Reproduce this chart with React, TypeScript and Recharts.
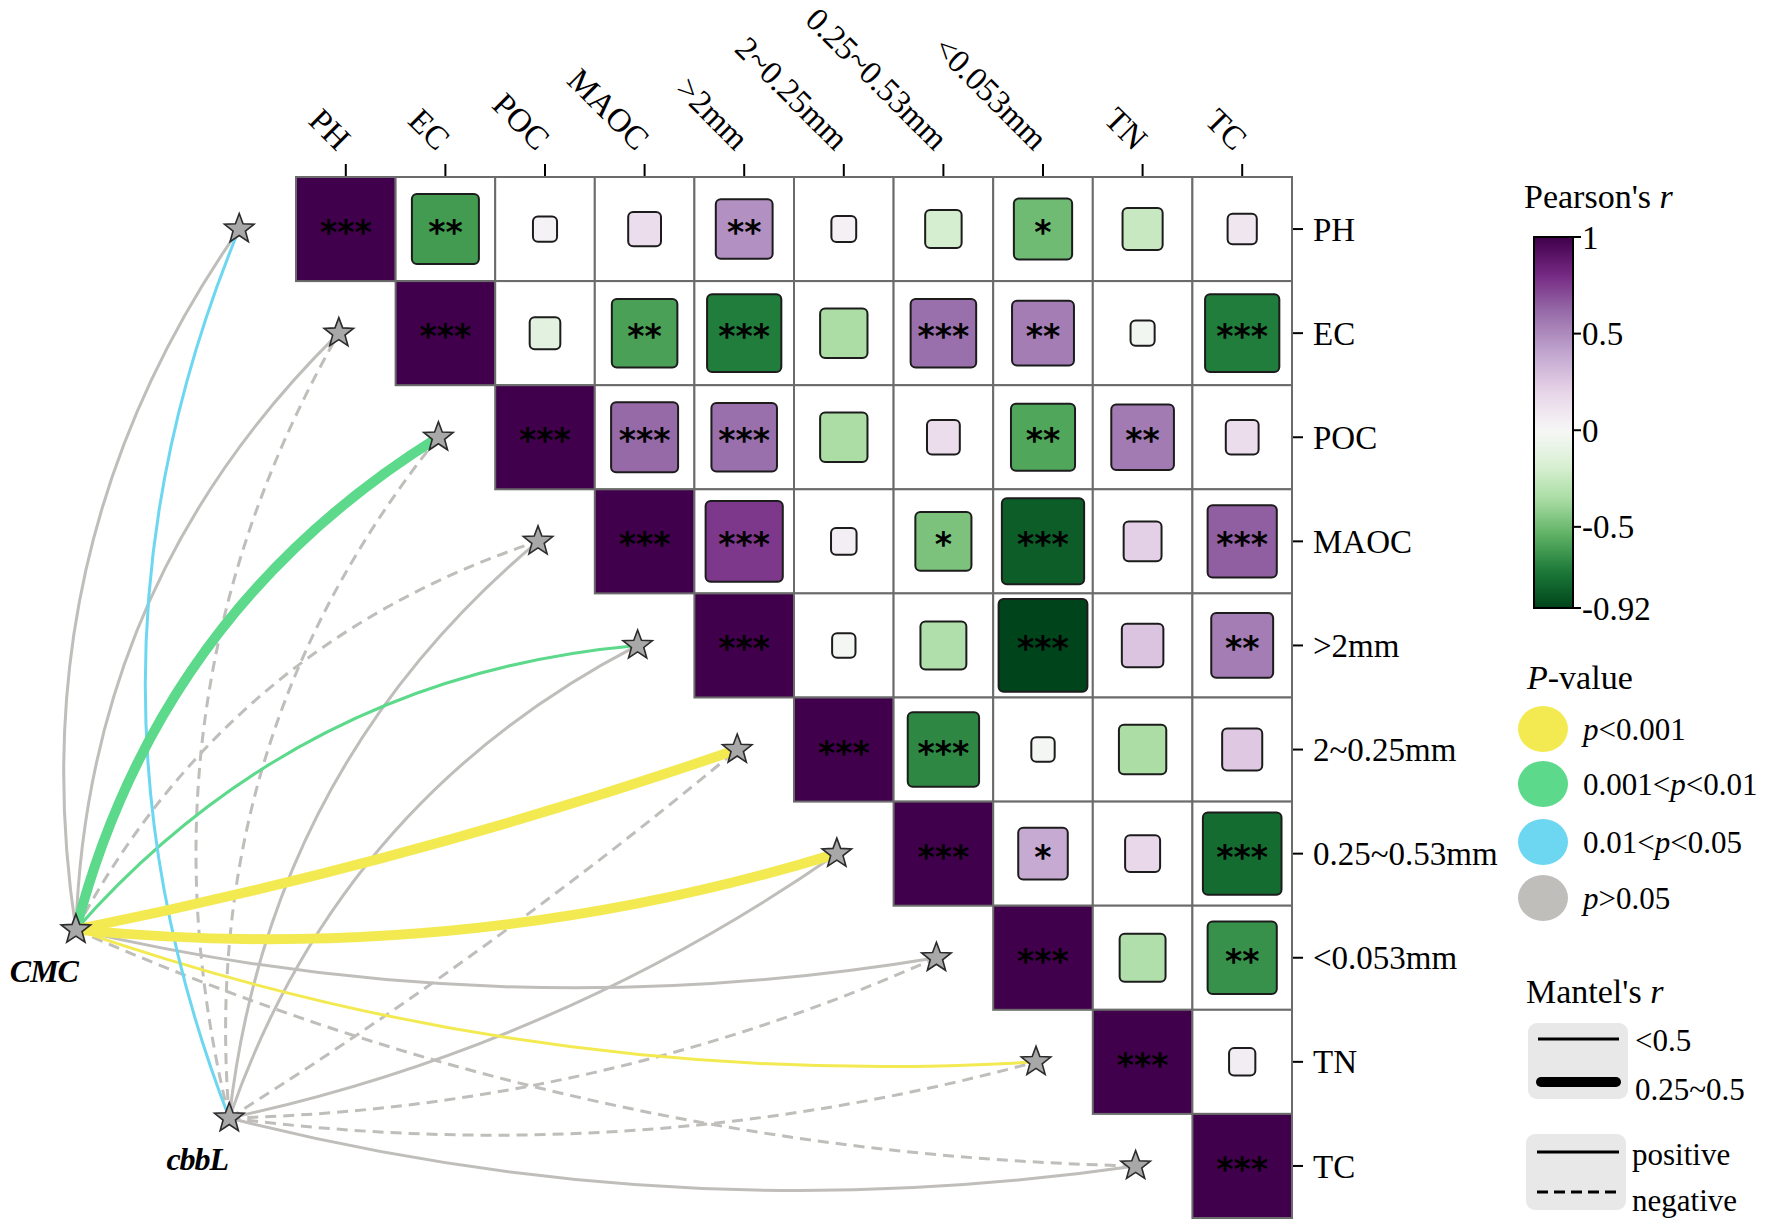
import React from "react";
import { ScatterChart, Scatter, XAxis, YAxis } from "recharts";

// variables of the correlation matrix (rows top to bottom, columns left to right)
const variables = ["PH", "EC", "POC", "MAOC", ">2mm", "2~0.25mm", "0.25~0.53mm", "<0.053mm", "TN", "TC"];

// Pearson's r, upper triangle, each row starts at the column right of the diagonal
const rPH = [-0.62, 0.03, 0.15, 0.48, 0.04, -0.2, -0.5, -0.25, 0.1];
const sigPH = ["**", "", "", "**", "", "", "*", "", ""];
const rEC = [-0.12, -0.6, -0.72, -0.35, 0.6, 0.55, -0.03, -0.72];
const sigEC = ["", "**", "***", "", "***", "**", "", "***"];
const rPOC = [0.62, 0.6, -0.35, 0.15, -0.58, 0.56, 0.15];
const sigPOC = ["***", "***", "", "", "**", "**", ""];
const rMAOC = [0.76, 0.05, -0.47, -0.83, 0.22, 0.65];
const sigMAOC = ["***", "", "*", "***", "", "***"];
const rGT2 = [-0.02, -0.33, -0.92, 0.27, 0.55];
const sigGT2 = ["", "", "***", "", "**"];
const r2to025 = [-0.68, -0.02, -0.35, 0.25];
const sig2to025 = ["***", "", "", ""];
const r025to053 = [0.38, 0.18, -0.78];
const sig025to053 = ["*", "", "***"];
const rLT053 = [-0.33, -0.65];
const sigLT053 = ["", "**"];
const rTN = [0.06];
const sigTN = [""];
const rTC: number[] = [];
const sigTC: string[] = [];

const rowValues = [rPH, rEC, rPOC, rMAOC, rGT2, r2to025, r025to053, rLT053, rTN, rTC];
const rowSigs = [sigPH, sigEC, sigPOC, sigMAOC, sigGT2, sig2to025, sig025to053, sigLT053, sigTN, sigTC];

// Mantel test of each gene against every variable
const cmcMantelR = [0.12, 0.1, 0.32, -0.08, 0.21, 0.35, 0.38, 0.09, 0.18, -0.06];
const cmcMantelP = [0.32, 0.41, 0.004, 0.56, 0.007, 0.0004, 0.0002, 0.21, 0.0008, 0.63];
const cbblMantelR = [0.15, -0.07, -0.05, 0.06, 0.08, -0.04, 0.1, -0.09, -0.06, 0.05];
const cbblMantelP = [0.03, 0.48, 0.59, 0.44, 0.37, 0.71, 0.26, 0.39, 0.52, 0.66];

const colorbarTicks = [1, 0.5, 0, -0.5, -0.92];

// layout
const W = 1772;
const H = 1228;
const GRID_LEFT = 296;
const GRID_TOP = 177;
const CELL_W = 99.6;
const CELL_H = 104.1;
const X_MIN = -0.5 - GRID_LEFT / CELL_W;
const X_MAX = 9.5;
const Y_MIN = -0.5;
const Y_MAX = -0.5 + (H - GRID_TOP) / CELL_H;
const STAR_SHIFT = 1.07;
// where the two gene nodes sit (axis units)
const genes = [
  { label: "CMC", x: -2.71, y: 6.73, mr: cmcMantelR, mp: cmcMantelP },
  { label: "cbbL", x: -1.17, y: 8.54, mr: cbblMantelR, mp: cbblMantelP },
];

const SERIF = "'Liberation Serif', 'Times New Roman', serif";
const YELLOW = "#f3ea52";
const GREEN = "#5cd98a";
const BLUE = "#6dd7f1";
const GRAY = "#c0bebb";

const POS = ["#f7f7f7", "#e7d4e8", "#c2a5cf", "#9970ab", "#762a83", "#40004b"];
const NEG = ["#f7f7f7", "#d9f0d3", "#a6dba0", "#5aae61", "#1b7837", "#00441b"];
const R_MIN = -0.92;

function hex(h: string) {
  return [1, 3, 5].map((k) => parseInt(h.slice(k, k + 2), 16));
}
function ramp(stops: string[], t: number) {
  const s = Math.max(0, Math.min(1, t)) * (stops.length - 1);
  const k = Math.min(stops.length - 2, Math.floor(s));
  const a = hex(stops[k]);
  const b = hex(stops[k + 1]);
  const f = s - k;
  const c = a.map((v, n) => Math.round(v + (b[n] - v) * f));
  return `rgb(${c[0]},${c[1]},${c[2]})`;
}
function corrColor(r: number) {
  return r >= 0 ? ramp(POS, r) : ramp(NEG, r / R_MIN);
}
function pColor(p: number) {
  if (p < 0.001) return YELLOW;
  if (p < 0.01) return GREEN;
  if (p < 0.05) return BLUE;
  return GRAY;
}

const cellData: any[] = [];
variables.forEach((_, i) => {
  cellData.push({ x: i, y: i, r: 1, sig: "***", diag: true });
  rowValues[i].forEach((r, k) => {
    cellData.push({ x: i + 1 + k, y: i, r, sig: rowSigs[i][k], diag: false });
  });
});

const nodeData: any[] = [
  ...variables.map((_, i) => ({ x: i - STAR_SHIFT, y: i, label: "" })),
  ...genes.map((g) => ({ x: g.x, y: g.y, label: g.label })),
];

const linkData: any[] = [];
genes.forEach((g) => {
  variables.forEach((_, i) => {
    linkData.push({ x: i - STAR_SHIFT, y: i, i, fx: g.x, fy: g.y, r: g.mr[i], p: g.mp[i] });
  });
});
// grey links underneath, coloured and thick ones on top
const rank = (d: any) => (d.p >= 0.05 ? 0 : 1) + (Math.abs(d.r) >= 0.25 ? 1 : 0);
linkData.sort((a, b) => rank(a) - rank(b));

const CellShape = (props: any) => {
  const { cx, cy, payload } = props;
  const { r, sig, diag } = payload;
  const f = 0.22 + 0.73 * Math.abs(r);
  const sw = CELL_W * f;
  const sh = CELL_H * f;
  return (
    <g>
      <rect
        x={cx - CELL_W / 2}
        y={cy - CELL_H / 2}
        width={CELL_W}
        height={CELL_H}
        fill={diag ? corrColor(1) : "#ffffff"}
        stroke="#6b6b6b"
        strokeWidth={2}
      />
      {!diag && (
        <rect
          x={cx - sw / 2}
          y={cy - sh / 2}
          width={sw}
          height={sh}
          rx={5}
          fill={corrColor(r)}
          stroke="#1c1c1c"
          strokeWidth={2}
        />
      )}
      {sig && (
        <text
          x={cx}
          y={cy + 15}
          textAnchor="middle"
          fontFamily="'DejaVu Sans', sans-serif"
          fontWeight="bold"
          fontSize={33}
          fill="#000"
        >
          {sig}
        </text>
      )}
    </g>
  );
};

const LinkShape = (props: any) => {
  const { cx, cy, payload } = props;
  const sx = cx + (payload.fx - payload.x) * CELL_W;
  const sy = cy + (payload.fy - payload.y) * CELL_H;
  const dx = cx - sx;
  const dy = cy - sy;
  const len = Math.hypot(dx, dy);
  const bend = payload.i < 5 ? 0.1 : -0.05 * Math.min(1, (payload.i - 4.5) / 1.5);
  const nx = dy / len;
  const ny = -dx / len;
  const qx = (sx + cx) / 2 + nx * 2 * bend * len;
  const qy = (sy + cy) / 2 + ny * 2 * bend * len;
  const thick = Math.abs(payload.r) >= 0.25;
  return (
    <path
      d={`M${sx},${sy} Q${qx},${qy} ${cx},${cy}`}
      fill="none"
      stroke={pColor(payload.p)}
      strokeWidth={thick ? 10 : 3}
      strokeDasharray={payload.r < 0 ? "11 7" : undefined}
    />
  );
};

function starPath(cx: number, cy: number, ro: number, ri: number) {
  const pts: string[] = [];
  for (let k = 0; k < 10; k++) {
    const a = -Math.PI / 2 + (k * Math.PI) / 5;
    const rr = k % 2 === 0 ? ro : ri;
    pts.push(`${cx + rr * Math.cos(a)},${cy + rr * Math.sin(a)}`);
  }
  return `M${pts.join("L")}Z`;
}

const NodeShape = (props: any) => {
  const { cx, cy, payload } = props;
  return (
    <g>
      <path d={starPath(cx, cy, 15.5, 6.5)} fill="#a8a8a8" stroke="#2b2b2b" strokeWidth={1.6} />
      {payload.label && (
        <text
          x={cx - 32}
          y={cy + 52}
          textAnchor="middle"
          fontFamily={SERIF}
          fontStyle="italic"
          fontWeight="bold"
          fontSize={32}
          letterSpacing={-1}
          fill="#000"
        >
          {payload.label}
        </text>
      )}
    </g>
  );
};

const TopTick = (props: any) => {
  const { x, y, payload } = props;
  return (
    <text
      transform={`translate(${x - 9},${y - 10}) rotate(45)`}
      textAnchor="end"
      fontFamily={SERIF}
      fontSize={33}
      fill="#000"
    >
      {variables[payload.value]}
    </text>
  );
};

const RightTick = (props: any) => {
  const { x, y, payload } = props;
  return (
    <text x={x} y={y} dy="0.35em" textAnchor="start" fontFamily={SERIF} fontSize={33} fill="#000">
      {variables[payload.value]}
    </text>
  );
};

const Legends = () => {
  const cbTop = 237;
  const cbBot = 608;
  const cbX = 1534;
  const cbW = 39;
  const cbY = (v: number) => cbTop + ((1 - v) / (1 - R_MIN)) * (cbBot - cbTop);
  const stops = Array.from({ length: 41 }, (_, k) => k / 40);
  const pRows = [
    { c: YELLOW, y: 729, t: <><tspan fontStyle="italic">p</tspan>{"<0.001"}</> },
    { c: GREEN, y: 784, t: <>{"0.001<"}<tspan fontStyle="italic">p</tspan>{"<0.01"}</> },
    { c: BLUE, y: 842, t: <>{"0.01<"}<tspan fontStyle="italic">p</tspan>{"<0.05"}</> },
    { c: GRAY, y: 898, t: <><tspan fontStyle="italic">p</tspan>{">0.05"}</> },
  ];
  return (
    <svg width={W} height={H} style={{ position: "absolute", left: 0, top: 0, pointerEvents: "none" }}>
      <defs>
        <linearGradient id="cbar" x1="0" y1="0" x2="0" y2="1">
          {stops.map((o) => (
            <stop key={o} offset={o} stopColor={corrColor(1 - o * (1 - R_MIN))} />
          ))}
        </linearGradient>
      </defs>
      <g fontFamily={SERIF} fill="#000">
        <text x={1524} y={208} fontSize={34}>
          Pearson's <tspan fontStyle="italic">r</tspan>
        </text>
        <rect x={cbX} y={cbTop} width={cbW} height={cbBot - cbTop} fill="url(#cbar)" stroke="#000" strokeWidth={2} />
        {colorbarTicks.map((v) => (
          <g key={v}>
            <line x1={cbX + cbW} x2={cbX + cbW + 8} y1={cbY(v)} y2={cbY(v)} stroke="#000" strokeWidth={2} />
            <text x={cbX + cbW + 9} y={cbY(v)} dy="0.35em" fontSize={33}>
              {v}
            </text>
          </g>
        ))}

        <text x={1527} y={689} fontSize={34}>
          <tspan fontStyle="italic">P</tspan>-value
        </text>
        {pRows.map((row, k) => (
          <g key={k}>
            <ellipse cx={1543} cy={row.y} rx={25} ry={23} fill={row.c} />
            <text x={1583} y={row.y} dy="0.35em" fontSize={31}>
              {row.t}
            </text>
          </g>
        ))}

        <text x={1526} y={1003} fontSize={34}>
          Mantel's <tspan fontStyle="italic">r</tspan>
        </text>
        <rect x={1528} y={1023} width={100} height={76} rx={9} fill="#e8e8e8" />
        <line x1={1538} x2={1619} y1={1039} y2={1039} stroke="#000" strokeWidth={3} />
        <line x1={1541} x2={1616} y1={1082} y2={1082} stroke="#000" strokeWidth={10} strokeLinecap="round" />
        <text x={1635} y={1040} dy="0.35em" fontSize={31}>{"<0.5"}</text>
        <text x={1635} y={1089} dy="0.35em" fontSize={31}>0.25~0.5</text>

        <rect x={1526} y={1134} width={100} height={76} rx={9} fill="#e8e8e8" />
        <line x1={1537} x2={1619} y1={1152} y2={1152} stroke="#000" strokeWidth={3} />
        <line x1={1537} x2={1619} y1={1192} y2={1192} stroke="#000" strokeWidth={3} strokeDasharray="11 6" />
        <text x={1632} y={1154} dy="0.35em" fontSize={31}>positive</text>
        <text x={1632} y={1200} dy="0.35em" fontSize={31}>negative</text>
      </g>
    </svg>
  );
};

export default function App() {
  const idx = variables.map((_, i) => i);
  return (
    <div style={{ position: "absolute", left: 0, top: 0, width: W, height: H, background: "#fff" }}>
      <ScatterChart width={W} height={H} margin={{ top: GRID_TOP - 40, right: W - 1292 - 200, bottom: 0, left: 0 }}>
        <XAxis
          xAxisId={0}
          type="number"
          dataKey="x"
          orientation="top"
          domain={[X_MIN, X_MAX]}
          ticks={idx}
          interval={0}
          height={40}
          axisLine={false}
          tickSize={13}
          tickLine={{ stroke: "#000", strokeWidth: 2 }}
          tick={<TopTick />}
        />
        <YAxis
          yAxisId={0}
          type="number"
          dataKey="y"
          orientation="right"
          reversed
          domain={[Y_MIN, Y_MAX]}
          ticks={idx}
          interval={0}
          width={200}
          axisLine={false}
          tickSize={11}
          tickMargin={10}
          tickLine={{ stroke: "#000", strokeWidth: 2 }}
          tick={<RightTick />}
        />
        <Scatter data={linkData} shape={LinkShape} isAnimationActive={false} />
        <Scatter data={nodeData} shape={NodeShape} isAnimationActive={false} />
        <Scatter data={cellData} shape={CellShape} isAnimationActive={false} />
      </ScatterChart>
      <Legends />
    </div>
  );
}
